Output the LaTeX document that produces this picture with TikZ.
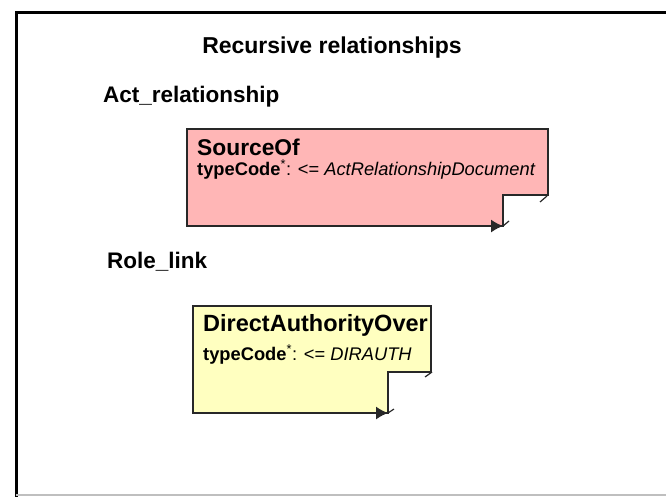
\documentclass[tikz,border=0pt]{standalone}
\usepackage{fontspec}
\setmainfont{Liberation Sans}
\usetikzlibrary{arrows.meta}
\definecolor{pinkfill}{RGB}{255,182,182}
\definecolor{yellowfill}{RGB}{255,255,192}
\definecolor{boxedge}{RGB}{40,40,40}
\begin{document}
\begin{tikzpicture}[x=1pt,y=-1pt,
  heading/.style={anchor=base west,inner sep=0pt,font=\bfseries\fontsize{22.5}{26}\selectfont},
  boxtitle/.style={anchor=base west,inner sep=0pt,font=\bfseries\fontsize{22.8}{26}\selectfont},
  attr/.style={anchor=base west,inner sep=0pt,font=\fontsize{18.3}{22}\selectfont},
  boxshape/.style={draw=boxedge,line width=1.6pt,line join=miter},
  stub/.style={draw=boxedge,line width=1.2pt},
  loopend/.style={draw=boxedge,line width=1.2pt,-{Latex[length=12pt,width=13pt]}}
]
\useasboundingbox (0,0) rectangle (666,496);
% outer frame
\draw[line width=3pt] (16,497) -- (16,12.5) -- (667,12.5);
\draw[black!25,line width=1.5pt] (16,495) -- (667,495);

% title and section headings
\node[anchor=base,inner sep=0pt,font=\bfseries\fontsize{23}{27}\selectfont] (title) at (332,53) {Recursive relationships};
\node[heading] (act) at (103,102) {Act\_relationship};
\node[heading] (role) at (107,268) {Role\_link};

% SourceOf box
\draw[boxshape,fill=pinkfill] (187,129) -- (548,129) -- (548,195) -- (503,195) -- (503,226) -- (187,226) -- cycle;
\node[boxtitle] (src) at (197,155) {SourceOf};
\node[attr] (srcattr) at (197,175) {\textbf{typeCode}\textsuperscript{*}: <= \textit{ActRelationshipDocument}};
\coordinate (s1) at (470,226);
\coordinate (s2) at (503,226);
\coordinate (s3) at (509,221);
\coordinate (s4) at (540,202);
\coordinate (s5) at (547,196);
\draw[loopend] (s1) -- (s2);
\draw[stub] (s2) -- (s3);
\draw[stub] (s4) -- (s5);

% DirectAuthorityOver box
\draw[boxshape,fill=yellowfill] (193,306) -- (431,306) -- (431,372) -- (388,372) -- (388,413) -- (193,413) -- cycle;
\node[boxtitle,font=\bfseries\fontsize{23.5}{27}\selectfont] (dir) at (203,331) {DirectAuthorityOver};
\node[attr] (dirattr) at (203,360) {\textbf{typeCode}\textsuperscript{*}: <= \textit{DIRAUTH}};
\coordinate (d1) at (355,413);
\coordinate (d2) at (388,413);
\coordinate (d3) at (394,409);
\coordinate (d4) at (425,377);
\coordinate (d5) at (432,372);
\draw[loopend] (d1) -- (d2);
\draw[stub] (d2) -- (d3);
\draw[stub] (d4) -- (d5);
\end{tikzpicture}
\end{document}
